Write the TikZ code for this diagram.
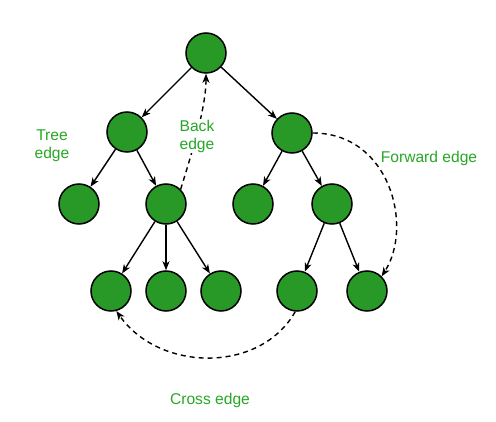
\documentclass[tikz,border=0pt]{standalone}
\usepackage{fontspec}
\setmainfont{Liberation Sans}
\usetikzlibrary{arrows.meta}
\definecolor{nodegreen}{RGB}{40,152,38}
\definecolor{textgreen}{RGB}{38,168,38}
\tikzset{
  vert/.style={circle,draw=black,line width=1.5pt,fill=nodegreen,minimum size=40pt,inner sep=0pt},
  treearrow/.style={draw=black,line width=1.4pt,-{Stealth[length=9pt,width=7pt,inset=2.5pt]}},
  specialarrow/.style={draw=black,line width=1.4pt,dash pattern=on 5pt off 4pt,-{Stealth[length=9pt,width=7pt,inset=2.5pt]}},
  lbl/.style={text=textgreen,font=\fontsize{15.6pt}{18pt}\selectfont,align=center,inner sep=1pt},
  lblbg/.style={lbl,fill=white}
}
\begin{document}
\begin{tikzpicture}[x=1pt,y=-1pt]
\useasboundingbox (0,0) rectangle (496,422);
\node[vert] (r) at (206,53) {};
\node[vert] (a) at (127,132) {};
\node[vert] (b) at (292,133) {};
\node[vert] (a1) at (79,204) {};
\node[vert] (a2) at (166,204) {};
\node[vert] (b1) at (253,204) {};
\node[vert] (b2) at (332,204) {};
\node[vert] (c1) at (111,291) {};
\node[vert] (c2) at (166,291) {};
\node[vert] (c3) at (221,291) {};
\node[vert] (d1) at (297,291) {};
\node[vert] (d2) at (367,291) {};

\draw[treearrow] (r) -- (a);
\draw[treearrow] (r) -- (b);
\draw[treearrow] (a) -- (a1);
\draw[treearrow] (a) -- (a2);
\draw[treearrow] (b) -- (b1);
\draw[treearrow] (b) -- (b2);
\draw[treearrow] (a2) -- (c1);
\draw[treearrow] (a2) -- (c2);
\draw[treearrow] (a2) -- (c3);
\draw[treearrow] (b2) -- (d1);
\draw[treearrow] (b2) -- (d2);

% back edge
\draw[specialarrow] (a2.45) .. controls +(10,-33) and +(0,35) .. (r.south);
% forward edge
\draw[specialarrow] (b.east) .. controls +(77,0) and +(32,-50) .. (d2.north east);
% cross edge
\draw[specialarrow] (d1.265) .. controls +(-35,62) and +(43,61) .. (c1.285);

\node[lbl] (treelbl) at (52,146) {Tree\\edge};
\node[lblbg] (backlbl) at (197,136) {Back\\edge};
\node[lblbg] (fwdlbl) at (429,158) {Forward edge};
\node[lbl] (crosslbl) at (210,400) {Cross edge};
\end{tikzpicture}
\end{document}
